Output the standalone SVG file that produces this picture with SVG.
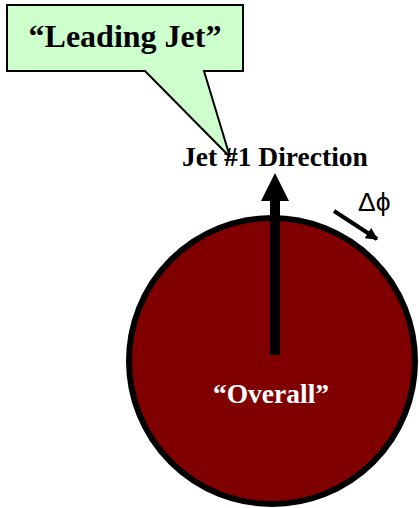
<svg xmlns="http://www.w3.org/2000/svg" width="419" height="508" viewBox="0 0 419 508">
<style>
.t{font-family:"Liberation Serif","Times New Roman",serif;font-weight:bold;fill:#000}
</style>
<defs>
<marker id="ah" viewBox="0 0 10 10" refX="9" refY="5" markerWidth="3.5" markerHeight="3" orient="auto" markerUnits="strokeWidth">
<path d="M0,0 L10,5 L0,10 Z" fill="#000"/>
</marker>
</defs>
<rect width="419" height="508" fill="#fff"/>
<g id="overall">
<circle cx="272" cy="361" r="143" fill="#800000" stroke="#000" stroke-width="6"/>
<text x="271" y="403" text-anchor="middle" font-size="27.5" class="t" style="fill:#fff">“Overall”</text>
</g>
<g id="connectors">
<rect x="270" y="199" width="10" height="156" fill="#000"/>
<polygon points="275,173 261,201 289,201" fill="#000"/>
<line x1="334" y1="211" x2="377" y2="239" stroke="#000" stroke-width="4" marker-end="url(#ah)"/>
</g>
<g id="jet-direction">
<text x="182" y="166" font-size="27.5" class="t">Jet #1 Direction</text>
</g>
<g id="dphi">
<text x="358" y="211" font-size="26.5" font-family="Liberation Sans, Arial, sans-serif" fill="#000">Δϕ</text>
</g>
<g id="leading-jet">
<polygon points="7,5 243,5 243,71 204,71 230,157 145,71 7,71" fill="#ccffcc" stroke="#000" stroke-width="2" stroke-linejoin="miter"/>
<text x="125" y="47" text-anchor="middle" font-size="32" class="t">“Leading Jet”</text>
</g>
</svg>
